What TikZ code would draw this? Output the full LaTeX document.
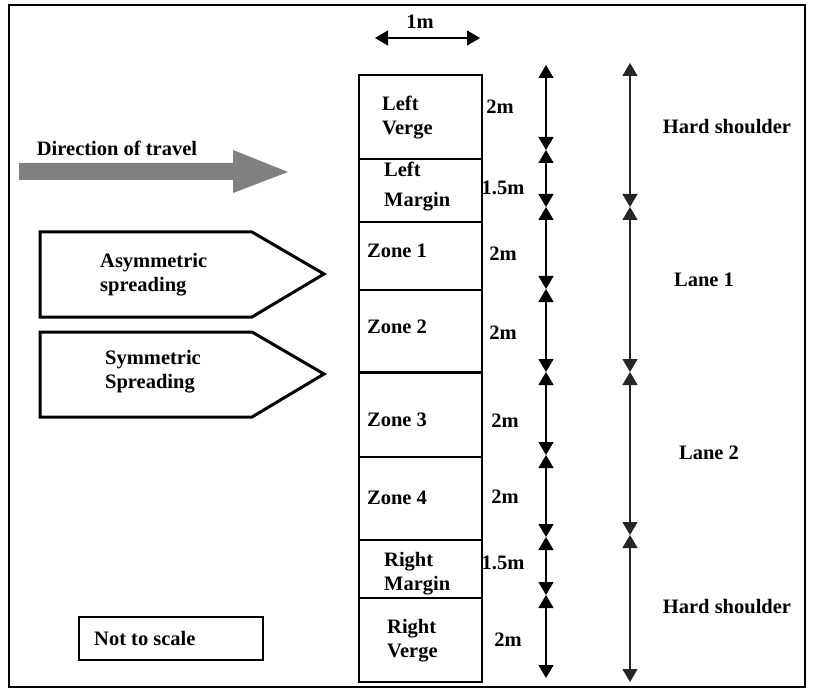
\documentclass[tikz,border=0pt]{standalone}
\usepackage{fontspec}
\setmainfont{Liberation Serif}
\usetikzlibrary{arrows.meta}
\begin{document}
\begin{tikzpicture}[x=1pt,y=-1pt,
  lbl/.style={font=\fontsize{20.5}{24}\selectfont\bfseries, inner sep=0pt},
  ml/.style={lbl, align=left, anchor=west},
  dim/.style={line width=1.3pt, {Triangle[width=15pt,length=13pt]}-{Triangle[width=15pt,length=13pt]}},
  rowline/.style={line width=2pt},
  pent/.style={line width=3pt, line join=miter}]
\useasboundingbox (0,0) rectangle (815,690);
% frame
\draw[line width=2pt] (9,5) rectangle (805,687);
% 1m arrow
\coordinate (wl) at (375,38);
\coordinate (wr) at (480,38);
\draw[dim] (wl) -- (wr);
\node[lbl] (onem) at (420,22) {1m};
% column
\coordinate (cTL) at (359,75);
\coordinate (cBR) at (482,682);
\draw[line width=2pt] (cTL) rectangle (cBR);
\foreach \y in {159,222,290,457,540,598}{
  \draw[rowline] (359,\y) -- (482,\y);
}
\draw[line width=3pt] (359,372) -- (482,372);
% column labels
\node[ml] (lv) at (382,118) {Left\\Verge};
\node[ml] (lm) at (384,187) {Left\\[6pt]Margin};
\node[lbl] (z1) at (397,251) {Zone 1};
\node[lbl] (z2) at (397,327) {Zone 2};
\node[lbl] (z3) at (397,420) {Zone 3};
\node[lbl] (z4) at (397,498) {Zone 4};
\node[ml] (rm) at (384,574) {Right\\Margin};
\node[ml] (rv) at (387,641) {Right\\Verge};
% size labels
\node[lbl] (s1) at (500,107) {2m};
\node[lbl] (s2) at (503,188) {1.5m};
\node[lbl] (s3) at (503,254) {2m};
\node[lbl] (s4) at (503,333) {2m};
\node[lbl] (s5) at (505,421) {2m};
\node[lbl] (s6) at (505,497) {2m};
\node[lbl] (s7) at (503,563) {1.5m};
\node[lbl] (s8) at (508,640) {2m};
% dimension column 1
\foreach \n/\y in {a0/65,a1/150,a2/207,a3/289,a4/372,a5/455,a6/537,a7/595,a8/678}{
  \coordinate (\n) at (546,\y);
}
\foreach \p/\q in {a0/a1,a1/a2,a2/a3,a3/a4,a4/a5,a5/a6,a6/a7,a7/a8}{
  \draw[dim] (\p) -- (\q);
}
% dimension column 2
\foreach \n/\y in {b0/63,b1/207,b2/372,b3/535,b4/682}{
  \coordinate (\n) at (630,\y);
}
\foreach \p/\q in {b0/b1,b1/b2,b2/b3,b3/b4}{
  \draw[dim, draw=black!85, fill=black!85] (\p) -- (\q);
}
% lane labels
\node[lbl] (hs1) at (727,127) {Hard shoulder};
\node[lbl] (l1) at (704,280) {Lane 1};
\node[lbl] (l2) at (709,453) {Lane 2};
\node[lbl] (hs2) at (727,607) {Hard shoulder};
% direction of travel
\node[lbl] (dir) at (117,148) {Direction of travel};
\fill[black!50] (19,163) -- (233,163) -- (233,150) -- (288,172) -- (233,193) -- (233,180) -- (19,180) -- cycle;
% pentagons
\draw[pent] (40,232) -- (252,232) -- (324,274) -- (252,317) -- (40,317) -- cycle;
\node[ml] (asym) at (100,275) {Asymmetric\\spreading};
\draw[pent] (40,332) -- (252,332) -- (324,374) -- (252,417) -- (40,417) -- cycle;
\node[ml] (sym) at (105,372) {Symmetric\\Spreading};
% not to scale
\draw[line width=1.2pt] (79,617) rectangle (263,660);
\node[lbl, anchor=west] (nts) at (94,638) {Not to scale};
\end{tikzpicture}
\end{document}
